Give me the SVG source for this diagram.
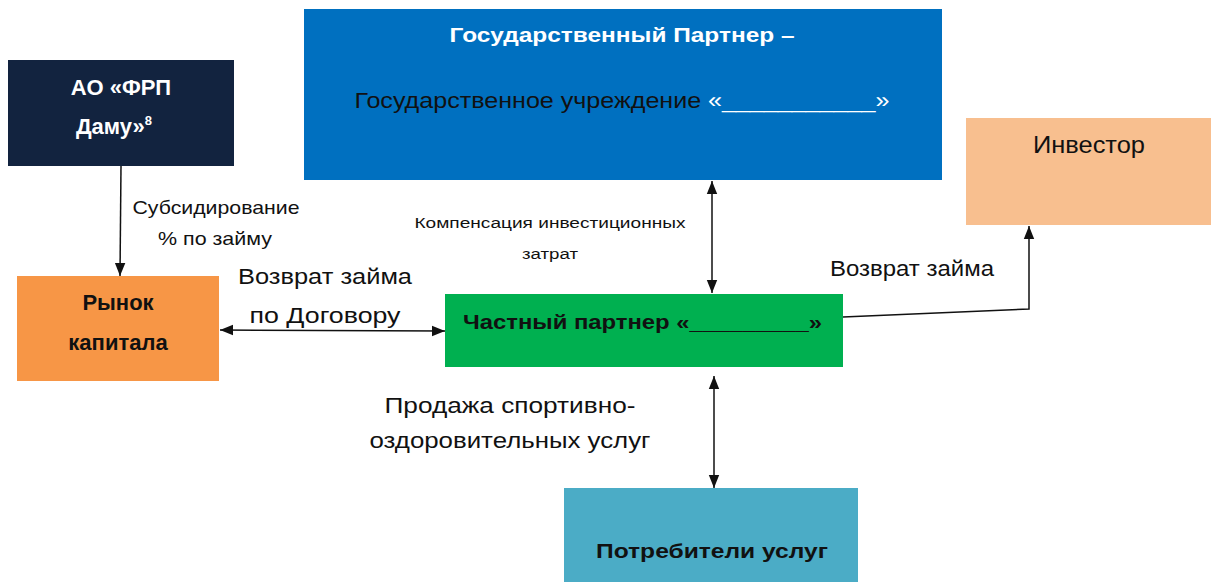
<svg xmlns="http://www.w3.org/2000/svg" width="1211" height="582" viewBox="0 0 1211 582">
<style>
text{font-family:"Liberation Sans","Open Sans",sans-serif;}
.b{font-weight:bold;}
.w{fill:#ffffff;}
.k{fill:#111111;}
.ln{stroke:#111;stroke-width:1.5;fill:none;}
</style>
<defs>
<marker id="ah2" viewBox="0 0 10 10" refX="10" refY="5" markerWidth="13" markerHeight="13" orient="auto-start-reverse" markerUnits="userSpaceOnUse">
<path d="M0,1 L10,5 L0,9 z" fill="#111"/>
</marker>
</defs>
<rect width="1211" height="582" fill="#ffffff"/>
<g id="connectors">
<line class="ln" x1="121" y1="166" x2="120" y2="276" marker-end="url(#ah2)"/>
<line class="ln" x1="220" y1="330" x2="445" y2="331" marker-start="url(#ah2)" marker-end="url(#ah2)"/>
<line class="ln" x1="712" y1="181" x2="712" y2="293" marker-start="url(#ah2)" marker-end="url(#ah2)"/>
<polyline class="ln" points="843,317 1029,309 1029,226" marker-end="url(#ah2)"/>
<line class="ln" x1="714" y1="376" x2="714" y2="488" marker-start="url(#ah2)" marker-end="url(#ah2)"/>
</g>
<g id="frp">
<rect x="8" y="60" width="226" height="106" fill="#12233f"/>
<text class="b w" x="121" y="95" font-size="22" text-anchor="middle">АО «ФРП</text>
<text class="b w" x="114" y="134" font-size="22" text-anchor="middle">Даму»<tspan font-size="13" dy="-9">8</tspan></text>
</g>
<g id="gov">
<rect x="304" y="9" width="638" height="171" fill="#0070c0"/>
<text class="b w" x="622" y="42" font-size="21" text-anchor="middle" textLength="345" lengthAdjust="spacingAndGlyphs">Государственный  Партнер –</text>
<text x="622" y="108" font-size="22" text-anchor="middle" textLength="535" lengthAdjust="spacingAndGlyphs" class="k">Государственное учреждение <tspan class="w">«___________»</tspan></text>
</g>
<g id="investor">
<rect x="966" y="118" width="245" height="107" fill="#f8bf8f"/>
<text class="k" x="1089" y="153" font-size="23" text-anchor="middle" textLength="112" lengthAdjust="spacingAndGlyphs">Инвестор</text>
</g>
<g id="market">
<rect x="17" y="276" width="202" height="105" fill="#f79646"/>
<text class="b k" x="118" y="310" font-size="22" text-anchor="middle">Рынок</text>
<text class="b k" x="118" y="350" font-size="22" text-anchor="middle">капитала</text>
</g>
<g id="private">
<rect x="445" y="294" width="398" height="73" fill="#00b050"/>
<text class="b k" x="463" y="329" font-size="21" textLength="359" lengthAdjust="spacingAndGlyphs">Частный  партнер «_________»</text>
</g>
<g id="consumers">
<rect x="564" y="488" width="294" height="94" fill="#4bacc6"/>
<text class="b k" x="712" y="558" font-size="21" text-anchor="middle" textLength="232" lengthAdjust="spacingAndGlyphs">Потребители услуг</text>
</g>
<g id="labels">
<text class="k" x="216" y="214" font-size="19" text-anchor="middle" textLength="167" lengthAdjust="spacingAndGlyphs">Субсидирование</text>
<text class="k" x="215" y="245" font-size="19" text-anchor="middle" textLength="114" lengthAdjust="spacingAndGlyphs">% по займу</text>
<text class="k" x="325" y="284" font-size="22" text-anchor="middle" textLength="174" lengthAdjust="spacingAndGlyphs">Возврат займа</text>
<text class="k" x="325" y="323" font-size="22" text-anchor="middle" textLength="151" lengthAdjust="spacingAndGlyphs">по Договору</text>
<text class="k" x="550" y="228" font-size="15.5" text-anchor="middle" textLength="271" lengthAdjust="spacingAndGlyphs">Компенсация инвестиционных</text>
<text class="k" x="550" y="259" font-size="15.5" text-anchor="middle" textLength="56" lengthAdjust="spacingAndGlyphs">затрат</text>
<text class="k" x="912" y="276" font-size="22" text-anchor="middle" textLength="164" lengthAdjust="spacingAndGlyphs">Возврат займа</text>
<text class="k" x="510" y="413" font-size="22" text-anchor="middle" textLength="251" lengthAdjust="spacingAndGlyphs">Продажа спортивно-</text>
<text class="k" x="510" y="448" font-size="22" text-anchor="middle" textLength="281" lengthAdjust="spacingAndGlyphs">оздоровительных услуг</text>
</g>
</svg>
